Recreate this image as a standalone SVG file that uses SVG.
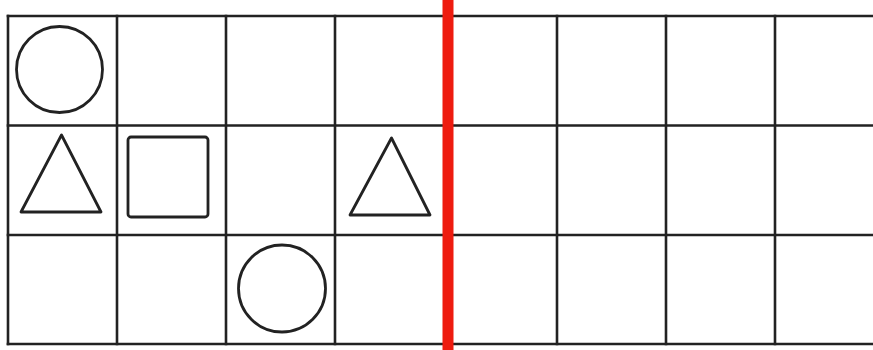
<svg xmlns="http://www.w3.org/2000/svg" width="873" height="350" viewBox="0 0 873 350">
<style>
.g{stroke:#222;stroke-width:2.6;fill:none;stroke-linecap:square}
.s{stroke:#222;stroke-width:2.8;fill:none;stroke-linejoin:round}
</style>
<rect width="873" height="350" fill="#fff"/>
<g id="grid" class="g">
<line x1="8" y1="16" x2="873" y2="16"/>
<line x1="8" y1="125.5" x2="873" y2="125.5"/>
<line x1="8" y1="235" x2="873" y2="235"/>
<line x1="8" y1="344" x2="873" y2="344"/>
<line x1="8" y1="16" x2="8" y2="344"/>
<line x1="117" y1="16" x2="117" y2="344"/>
<line x1="226" y1="16" x2="226" y2="344"/>
<line x1="335" y1="16" x2="335" y2="344"/>
<line x1="447" y1="16" x2="447" y2="344"/>
<line x1="557" y1="16" x2="557" y2="344"/>
<line x1="666" y1="16" x2="666" y2="344"/>
<line x1="775" y1="16" x2="775" y2="344"/>
</g>
<g id="circle1"><circle class="s" cx="59.5" cy="69.5" r="43"/></g>
<g id="triangle1"><polygon class="s" points="61.5,135 21,212 101,212"/></g>
<g id="square1"><rect class="s" x="128" y="137" width="80" height="80" rx="3"/></g>
<g id="triangle2"><polygon class="s" points="391.5,138 350,215 430,215"/></g>
<g id="circle2"><circle class="s" cx="282" cy="288.5" r="43.5"/></g>
<g id="redline"><line x1="448" y1="0" x2="448" y2="350" stroke="#ee1b0f" stroke-width="11"/></g>
</svg>
